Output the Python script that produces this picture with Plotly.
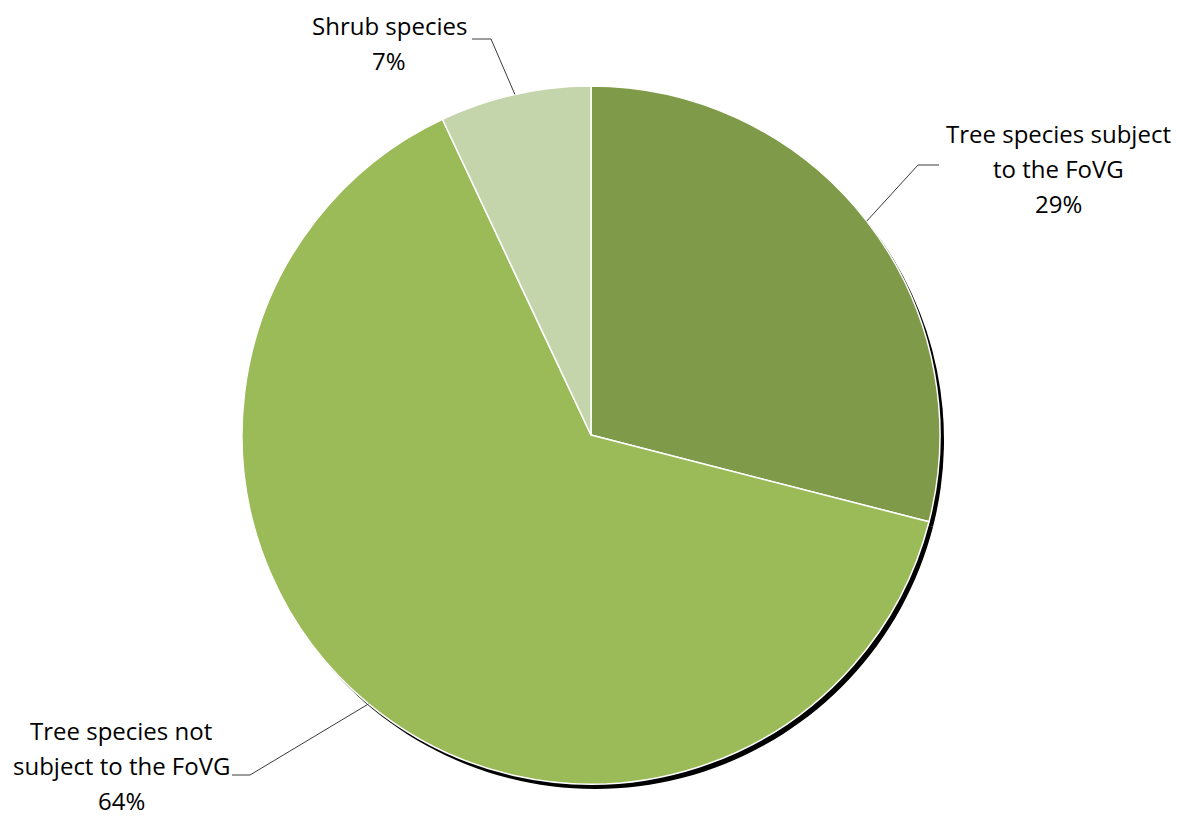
import math
import plotly.graph_objects as go

# ---- data ----
categories = ["Tree species subject to the FoVG", "Tree species not subject to the FoVG", "Shrub species"]
values = [29, 64, 7]
label_lines = [["Tree species subject", "to the FoVG"], ["Tree species not", "subject to the FoVG"], ["Shrub species"]]
colors = ["#7F9B4A", "#9BBB59", "#C5D5AB"]

# page body has an 8px margin: work in page pixels and shift into the figure
OFF = 8
W, H = 1181 - OFF, 817 - OFF
CX, CY, R = 591, 435, 349

def px(x):
    return (x - OFF) / W

def py(y):
    return 1 - (y - OFF) / H

# label layout (page pixels): text centre x, first line y, elbow point, text-side end of leader
label_pos = [
    dict(x=1058, y=133, elbow=(918, 165), end=(939, 165)),
    dict(x=121, y=730, elbow=(250, 775), end=(232, 775)),
    dict(x=389, y=25, elbow=(491, 39), end=(472, 39)),
]
LINE_H = 35

fig = go.Figure()

# shadow
sdx, sdy = 4, 5
fig.add_trace(go.Pie(
    labels=categories, values=values, sort=False, direction="clockwise", rotation=0,
    marker=dict(colors=["#000000"] * 3, line=dict(width=0)),
    textinfo="none", hoverinfo="skip", showlegend=False,
    domain=dict(x=[px(CX - R + sdx), px(CX + R + sdx)], y=[py(CY + R + sdy), py(CY - R + sdy)]),
))

fig.add_trace(go.Pie(
    labels=categories, values=values, sort=False, direction="clockwise", rotation=0,
    marker=dict(colors=colors, line=dict(color="white", width=1.5)),
    textinfo="none", showlegend=False,
    domain=dict(x=[px(CX - R), px(CX + R)], y=[py(CY + R), py(CY - R)]),
))

total = sum(values)
cum = 0
shapes = []
annotations = []
font = dict(family="Open Sans, Calibri, Carlito, sans-serif", size=24, color="#000000")
for i, v in enumerate(values):
    mid = (cum + v / 2) / total * 2 * math.pi
    cum += v
    ex = CX + R * math.sin(mid)
    ey = CY - R * math.cos(mid)
    lp = label_pos[i]
    (bx, by), (tx, ty) = lp["elbow"], lp["end"]
    shapes.append(dict(
        type="path", xref="paper", yref="paper",
        path=f"M {px(ex)},{py(ey)} L {px(bx)},{py(by)} L {px(tx)},{py(ty)}",
        line=dict(color="#3a3a3a", width=1),
    ))
    lines = label_lines[i] + [f"{round(v / total * 100)}%"]
    for j, t in enumerate(lines):
        annotations.append(dict(
            x=px(lp["x"]), y=py(lp["y"] + j * LINE_H), xref="paper", yref="paper",
            text=t, showarrow=False, xanchor="center", yanchor="middle", font=font,
            borderpad=0,
        ))

fig.update_layout(
    width=W, height=H, margin=dict(l=0, r=0, t=0, b=0),
    paper_bgcolor="white", plot_bgcolor="white",
    shapes=shapes, annotations=annotations, showlegend=False,
)

fig.write_html("out.html")
